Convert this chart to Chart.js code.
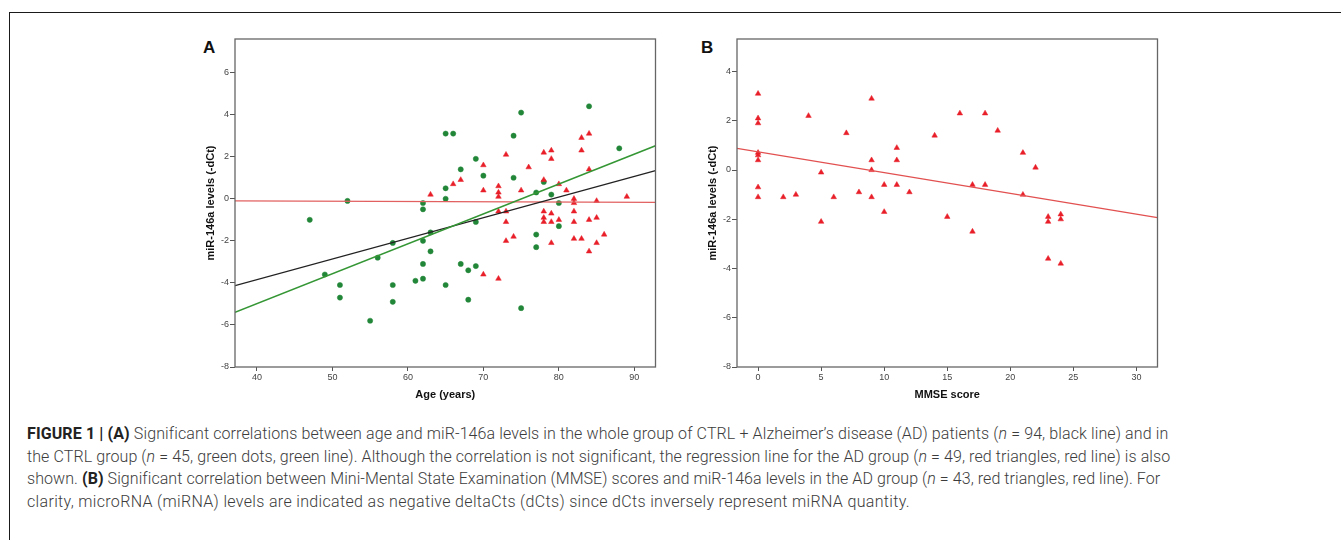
<!DOCTYPE html>
<html>
<head>
<meta charset="utf-8">
<script src="https://cdn.jsdelivr.net/npm/chart.js@4.4.1/dist/chart.umd.min.js"></script>
<style>
  html, body { margin: 0; padding: 0; background: #fff; width: 1341px; height: 540px; overflow: hidden; }
  #frame { position: absolute; left: 9px; top: 12px; width: 1400px; height: 600px; border: 1px solid #1a1a1a; box-sizing: border-box; }
  canvas { position: absolute; }
  .panel { position: absolute; font-family: "Liberation Sans", Arial, sans-serif; font-weight: bold; font-size: 17px; color: #111; line-height: 1; }
  .cap { position: absolute; left: 27px; font-family: Roboto, "Liberation Sans", sans-serif; font-weight: 300; font-size: 16px; color: #3c3c3c; line-height: 22.5px; white-space: nowrap; }
  .cap b { font-weight: 700; color: #222; }
</style>
</head>
<body>
<div id="frame"></div>
<div class="panel" style="left:203px; top:39px;">A</div>
<div class="panel" style="left:701px; top:39px;">B</div>
<canvas id="chartA" width="462" height="376" style="left:198px; top:30px;"></canvas>
<canvas id="chartB" width="462" height="376" style="left:700px; top:30px;"></canvas>

<div class="cap" data-w="1141" style="top:423px;"><b>FIGURE 1 | (A)</b> Significant correlations between age and miR-146a levels in the whole group of CTRL + Alzheimer’s disease (AD) patients (<i>n</i> = 94, black line) and in</div>
<div class="cap" data-w="1143" style="top:445.5px;">the CTRL group (<i>n</i> = 45, green dots, green line). Although the correlation is not significant, the regression line for the AD group (<i>n</i> = 49, red triangles, red line) is also</div>
<div class="cap" data-w="1133" style="top:468px;">shown. <b>(B)</b> Significant correlation between Mini-Mental State Examination (MMSE) scores and miR-146a levels in the AD group (<i>n</i> = 43, red triangles, red line). For</div>
<div class="cap" data-w="883" style="top:490.5px;">clarity, microRNA (miRNA) levels are indicated as negative deltaCts (dCts) since dCts inversely represent miRNA quantity.</div>

<script>
// ---- Panel A data: CTRL group (green dots) ----
const ctrlAge = [47,49,51,51,52,55,56,58,58,58,61,62,62,62,62,62,63,63,65,65,65,65,66,67,67,68,68,69,69,69,70,74,74,75,75,77,77,77,78,79,80,80,84,88];
const ctrlMir = [-1.0,-3.6,-4.1,-4.7,-0.1,-5.8,-2.8,-2.1,-4.1,-4.9,-3.9,-0.2,-0.5,-2.0,-3.1,-3.8,-1.6,-2.5,3.1,0.5,0.0,-4.1,3.1,1.4,-3.1,-3.4,-4.8,1.9,-1.1,-3.2,1.1,3.0,1.0,4.1,-5.2,0.3,-1.7,-2.3,0.8,0.2,-0.2,-1.3,4.4,2.4];

// ---- Panel A data: AD group (red triangles) ----
const adAge = [63,66,67,70,70,70,72,72,72,72,72,73,73,73,73,74,75,76,78,78,78,78,78,79,79,79,79,79,80,80,81,82,82,82,82,82,83,83,83,84,84,84,84,85,85,85,86,89];
const adMir = [0.2,0.7,0.9,1.6,0.4,-3.6,0.6,0.3,0.1,-0.6,-3.8,2.1,-0.6,-1.1,-2.0,-1.8,0.4,1.5,2.2,0.9,-0.6,-0.9,-1.1,2.3,1.9,-0.7,-1.1,-2.1,0.7,-1.0,0.4,0.0,-0.2,-0.6,-1.1,-1.9,2.9,2.3,-1.9,3.1,1.4,-1.0,-2.5,-0.1,-0.9,-2.1,-1.7,0.1];

// ---- Panel A regression lines (end points) ----
const lineAllX  = [37.1, 92.8];
const lineAllY  = [-4.13, 1.34];
const lineCtrlX = [37.1, 92.8];
const lineCtrlY = [-5.4, 2.52];
const lineAdX   = [37.1, 92.8];
const lineAdY   = [-0.1, -0.17];

// ---- Panel B data: AD group MMSE ----
const mmse = [0,0,0,0,0,0,0,0,2,3,4,5,5,6,7,8,9,9,9,9,10,10,11,11,11,12,14,15,16,17,17,18,18,19,21,21,22,23,23,23,24,24,24];
const mirB = [3.1,2.1,1.9,0.7,0.6,0.4,-0.7,-1.1,-1.1,-1.0,2.2,-0.1,-2.1,-1.1,1.5,-0.9,2.9,0.4,0.0,-1.1,-0.6,-1.7,0.9,0.4,-0.6,-0.9,1.4,-1.9,2.3,-0.6,-2.5,2.3,-0.6,1.6,0.7,-1.0,0.1,-1.9,-2.1,-3.6,-1.8,-2.0,-3.8];
const lineBX = [-1.67, 31.67];
const lineBY = [0.88, -1.93];

// ---- Tick labels ----
const xTicksA = [40,50,60,70,80,90];
const yTicksA = [-8,-6,-4,-2,0,2,4,6];
const xTicksB = [0,5,10,15,20,25,30];
const yTicksB = [-8,-6,-4,-2,0,2,4];

// ---- Axis ranges ----
const xRangeA = [37.1, 92.8];
const yRangeA = [-8, 7.6];
const xRangeB = [-1.67, 31.67];
const yRangeB = [-8, 5.32];

// caption: per-line letter spacing so each line ends where the original's does
document.querySelectorAll('.cap').forEach(el => {
  const target = parseFloat(el.dataset.w);
  const w = el.getBoundingClientRect().width;
  const n = el.textContent.length;
  el.style.letterSpacing = ((target - w) / n).toFixed(3) + 'px';
});

const pts = (xs, ys) => xs.map((x, i) => ({x: x, y: ys[i]}));

const GREEN = 'rgb(34,134,56)';
const RED = 'rgb(232,30,40)';

const framePlugin = {
  id: 'frame',
  afterDraw(chart) {
    const a = chart.chartArea, ctx = chart.ctx;
    ctx.save();
    ctx.strokeStyle = '#666';
    ctx.lineWidth = 1.3;
    ctx.strokeRect(a.left, a.top, a.right - a.left, a.bottom - a.top);
    ctx.restore();
  }
};

function makeScales(xr, yr, xt, yt, xTitle) {
  const tickFont = {family: '"Liberation Sans", Arial, sans-serif', size: 9};
  const titleFont = {family: '"Liberation Sans", Arial, sans-serif', size: 11, weight: 'bold'};
  return {
    x: {
      type: 'linear', min: xr[0], max: xr[1],
      afterBuildTicks: s => { s.ticks = xt.map(v => ({value: v})); },
      afterFit: s => { s.height = 39; },
      grid: {display: true, drawOnChartArea: false, drawTicks: true, tickLength: 4, color: '#555'},
      border: {display: false},
      ticks: {font: tickFont, color: '#444', padding: 1, autoSkip: false, maxRotation: 0},
      title: {display: true, text: xTitle, font: titleFont, color: '#111', padding: {top: 0, bottom: 4}}
    },
    y: {
      type: 'linear', min: yr[0], max: yr[1],
      afterBuildTicks: s => { s.ticks = yt.map(v => ({value: v})); },
      afterFit: s => { s.width = 37; },
      grid: {display: true, drawOnChartArea: false, drawTicks: true, tickLength: 5, color: '#555'},
      border: {display: false},
      ticks: {font: tickFont, color: '#444', padding: 1, autoSkip: false},
      title: {display: true, text: 'miR-146a levels (-dCt)', font: titleFont, color: '#111', padding: {top: 6, bottom: 0}}
    }
  };
}

const commonOpts = (scales) => ({
  responsive: false,
  animation: false,
  devicePixelRatio: 1,
  layout: {padding: {top: 9, right: 4, left: 0, bottom: 0}},
  plugins: {legend: {display: false}, tooltip: {enabled: false}},
  scales: scales
});

new Chart(document.getElementById('chartA'), {
  type: 'scatter',
  data: {
    datasets: [
      {type: 'line', data: pts(lineCtrlX, lineCtrlY), borderColor: 'rgb(52,150,52)', borderWidth: 1.6, pointRadius: 0, fill: false, order: 0},
      {type: 'line', data: pts(lineAllX, lineAllY), borderColor: '#222', borderWidth: 1.3, pointRadius: 0, fill: false, order: 0},
      {type: 'line', data: pts(lineAdX, lineAdY), borderColor: 'rgb(226,96,96)', borderWidth: 1.2, pointRadius: 0, fill: false, order: 0},
      {data: pts(adAge, adMir), pointStyle: 'triangle', pointRadius: 3.2, backgroundColor: RED, borderColor: RED, borderWidth: 0.5, order: 1},
      {data: pts(ctrlAge, ctrlMir), pointStyle: 'circle', pointRadius: 2.6, backgroundColor: GREEN, borderColor: GREEN, borderWidth: 0.5, order: 1}
    ]
  },
  options: commonOpts(makeScales(xRangeA, yRangeA, xTicksA, yTicksA, 'Age (years)')),
  plugins: [framePlugin]
});

new Chart(document.getElementById('chartB'), {
  type: 'scatter',
  data: {
    datasets: [
      {type: 'line', data: pts(lineBX, lineBY), borderColor: 'rgb(226,80,80)', borderWidth: 1.3, pointRadius: 0, fill: false, order: 0},
      {data: pts(mmse, mirB), pointStyle: 'triangle', pointRadius: 3.2, backgroundColor: RED, borderColor: RED, borderWidth: 0.5, order: 1}
    ]
  },
  options: commonOpts(makeScales(xRangeB, yRangeB, xTicksB, yTicksB, 'MMSE score')),
  plugins: [framePlugin]
});
</script>
</body>
</html>
